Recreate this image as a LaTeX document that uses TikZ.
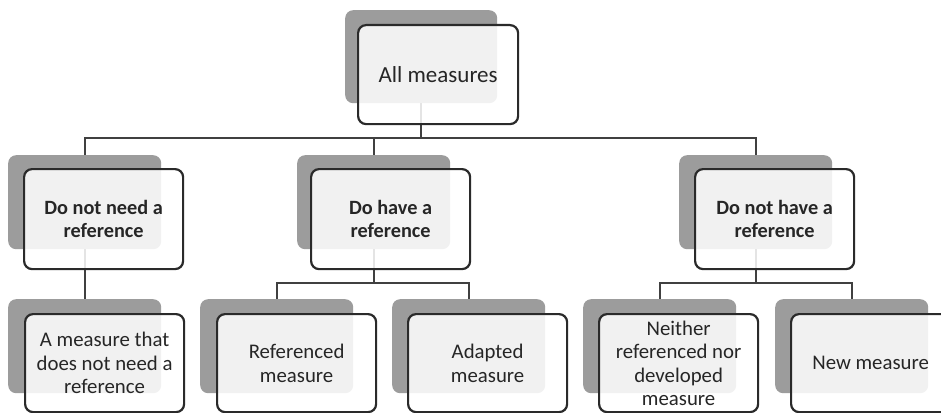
\documentclass[tikz,border=0pt]{standalone}
\usepackage{fontspec}
\setmainfont{Carlito}
\definecolor{backgray}{HTML}{9C9C9C}
\definecolor{edge}{HTML}{2A2A2A}
\definecolor{linkgray}{HTML}{404040}
\definecolor{txt}{HTML}{262626}
\pgfdeclarelayer{paper}
\pgfdeclarelayer{links}
\pgfsetlayers{paper,links,main}
\begin{document}
\begin{tikzpicture}[x=1pt,y=-1pt,
  backbox/.style={rectangle, rounded corners=8pt, fill=backgray, inner sep=0pt,
    anchor=north west, minimum width=153pt, minimum height=94pt},
  frontbox/.style={rectangle, rounded corners=8pt, draw=edge, line width=2.2pt,
    fill=white, fill opacity=0.86, text=txt, text opacity=1, inner sep=0pt,
    anchor=north west, minimum width=159pt, minimum height=100pt, align=center},
  lvlone/.style={font=\fontsize{23}{27}\selectfont, minimum width=160pt, minimum height=99pt},
  lvltwo/.style={font=\fontsize{20.3}{22.5}\bfseries\selectfont},
  lvlthree/.style={font=\fontsize{20.8}{23.5}\selectfont, minimum height=98pt},
  link/.style={draw=linkgray, line width=2pt}]
\useasboundingbox (0,0) rectangle (941,412);
\begin{pgfonlayer}{paper}
  \fill[white] (0,0) rectangle (941,412);
\end{pgfonlayer}

% back plates
\node[backbox, minimum width=152pt, minimum height=93pt] (r0) at (345,10) {};
\node[backbox] (a0) at (8,155) {};
\node[backbox] (b0) at (297,155) {};
\node[backbox] (c0) at (679,155) {};
\node[backbox] (a10) at (8,299) {};
\node[backbox] (b10) at (200,299) {};
\node[backbox] (b20) at (392,299) {};
\node[backbox] (c10) at (583,299) {};
\node[backbox] (c20) at (775,299) {};

% heights of the horizontal bars
\coordinate (barA) at (0,138);
\coordinate (barB) at (0,283);

% connectors, kept behind the plates
\begin{pgfonlayer}{links}
  \draw[link] (r0.center) -- (r0.center |- barA);
  \draw[link] (a0.north) -- (a0.north |- barA) -- (c0.north |- barA) -- (c0.north);
  \draw[link] (b0.north) -- (b0.north |- barA);
  \draw[link] (a0.center) -- (a10.north);
  \draw[link] (b0.center) -- (b0.center |- barB);
  \draw[link] (b10.north) -- (b10.north |- barB) -- (b20.north |- barB) -- (b20.north);
  \draw[link] (c0.center) -- (c0.center |- barB);
  \draw[link] (c10.north) -- (c10.north |- barB) -- (c20.north |- barB) -- (c20.north);
\end{pgfonlayer}

% front cards with the labels
\node[frontbox, lvlone] (r) at (357,24) {All measures};
\node[frontbox, lvltwo] (a) at (23,168) {Do not need a\\reference};
\node[frontbox, lvltwo] (b) at (310,168) {Do have a\\reference};
\node[frontbox, lvltwo] (c) at (694,168) {Do not have a\\reference};
\node[frontbox, lvlthree] (a1) at (24,313) {A measure that\\does not need a\\reference};
\node[frontbox, lvlthree] (b1) at (216,313) {Referenced\\measure};
\node[frontbox, lvlthree] (b2) at (407,313) {Adapted\\measure};
\node[frontbox, lvlthree] (c1) at (598,313) {Neither\\referenced nor\\developed\\measure};
\node[frontbox, lvlthree] (c2) at (790,313) {New measure};
\end{tikzpicture}
\end{document}
